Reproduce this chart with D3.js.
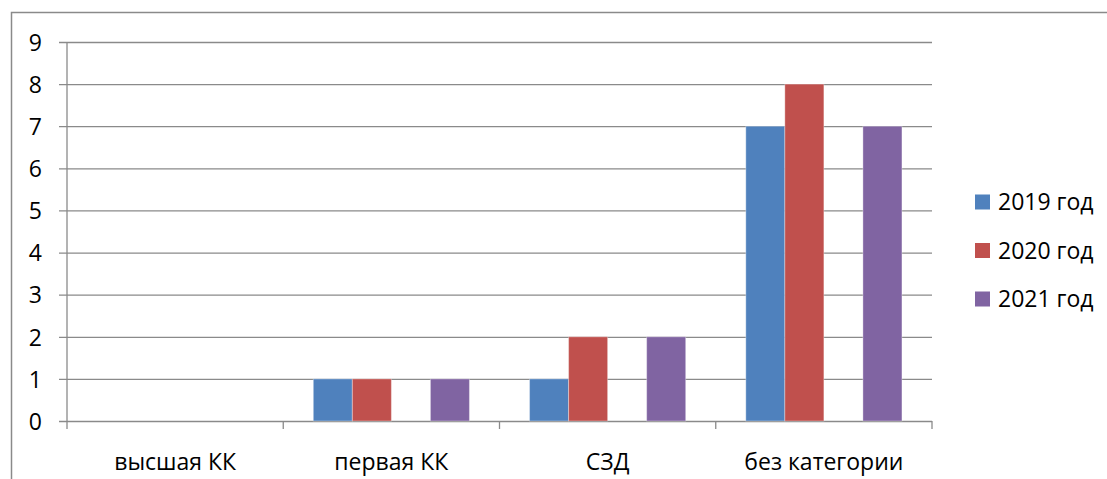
<!DOCTYPE html>
<html>
<head>
<meta charset="utf-8">
<script src="https://cdn.jsdelivr.net/npm/d3@7"></script>
<style>
  html, body { margin: 0; padding: 0; background: #fff; }
  svg { display: block; }
  text { font-family: "Open Sans", "Liberation Sans", sans-serif; fill: #000; }
</style>
</head>
<body>
<svg id="chart" width="1107" height="479"></svg>
<script>
// ---- data ----
const categories = ["высшая КК", "первая КК", "СЗД", "без категории"];
const seriesNames = ["2019 год", "2020 год", "2021 год"];
const values2019 = [0, 1, 1, 7];
const values2020 = [0, 1, 2, 8];
const values2021 = [0, 1, 2, 7];
// the source chart reserves an empty slot between 2020 and 2021
const slotOrder = ["2019 год", "2020 год", "—", "2021 год"];
const yTicks = [0, 1, 2, 3, 4, 5, 6, 7, 8, 9];
const colors = ["#4F81BD", "#C0504D", "#8064A2"];

const seriesValues = [values2019, values2020, values2021];

const svg = d3.select("#chart");
const gridColor = "#8a8a8a";
const fontSize = "23px";

// outer frame
svg.append("rect")
  .attr("x", 11.5).attr("y", 12.5)
  .attr("width", 1200).attr("height", 600)
  .attr("fill", "none").attr("stroke", gridColor).attr("stroke-width", 1.5);

const plot = { left: 67, right: 932, top: 42, bottom: 421 };

const x0 = d3.scaleBand().domain(categories).range([plot.left, plot.right]).padding(0);
const x1 = d3.scaleBand().domain(slotOrder).range([0, x0.bandwidth()])
  .paddingInner(0).paddingOuter(0.77);
const y = d3.scaleLinear().domain([0, 9]).range([plot.bottom, plot.top]);
const color = d3.scaleOrdinal().domain(seriesNames).range(colors);

// gridlines + y axis ticks
const yAxis = d3.axisLeft(y).tickValues(yTicks).tickSize(-(plot.right - plot.left) - 8)
  .tickSizeOuter(0).tickFormat(d3.format("d")).tickPadding(17);
const gy = svg.append("g").attr("transform", `translate(${plot.left},0)`).call(yAxis);
gy.select(".domain").remove();
gy.selectAll(".tick line")
  .attr("x1", -8).attr("x2", plot.right - plot.left)
  .attr("stroke", gridColor).attr("stroke-width", 1.3);
gy.selectAll(".tick text")
  .attr("x", -25)
  .style("font-size", fontSize).attr("dy", "0.36em");

// y axis line
svg.append("line")
  .attr("x1", plot.left).attr("x2", plot.left)
  .attr("y1", plot.top).attr("y2", plot.bottom)
  .attr("stroke", gridColor).attr("stroke-width", 1.3);

// x axis with category boundary ticks
const boundaries = categories.map(c => x0(c)).concat([plot.right]);
svg.append("g").selectAll("line").data(boundaries).join("line")
  .attr("x1", d => d).attr("x2", d => d)
  .attr("y1", plot.bottom).attr("y2", plot.bottom + 8)
  .attr("stroke", gridColor).attr("stroke-width", 1.3);

svg.append("g").selectAll("text").data(categories).join("text")
  .attr("x", d => x0(d) + x0.bandwidth() / 2)
  .attr("y", 470)
  .attr("text-anchor", "middle")
  .style("font-size", fontSize)
  .text(d => d);

// bars
const barData = [];
categories.forEach((c, i) => {
  seriesNames.forEach((s, j) => {
    barData.push({ cat: c, series: s, value: seriesValues[j][i] });
  });
});
svg.append("g").selectAll("rect").data(barData.filter(d => d.value > 0)).join("rect")
  .attr("x", d => x0(d.cat) + x1(d.series))
  .attr("width", x1.bandwidth())
  .attr("y", d => y(d.value))
  .attr("height", d => y(0) - y(d.value))
  .attr("fill", d => color(d.series))
  .attr("stroke", "rgba(255,255,255,0.35)")
  .attr("stroke-width", 1);

// legend
const legend = svg.append("g").selectAll("g").data(seriesNames).join("g")
  .attr("transform", (d, i) => `translate(975, ${202 + i * 48.5})`);
legend.append("rect")
  .attr("x", 0).attr("y", -7.5).attr("width", 15).attr("height", 15)
  .attr("fill", d => color(d));
legend.append("text")
  .attr("x", 23).attr("y", 0).attr("dy", "0.36em")
  .style("font-size", fontSize)
  .text(d => d);
</script>
</body>
</html>
